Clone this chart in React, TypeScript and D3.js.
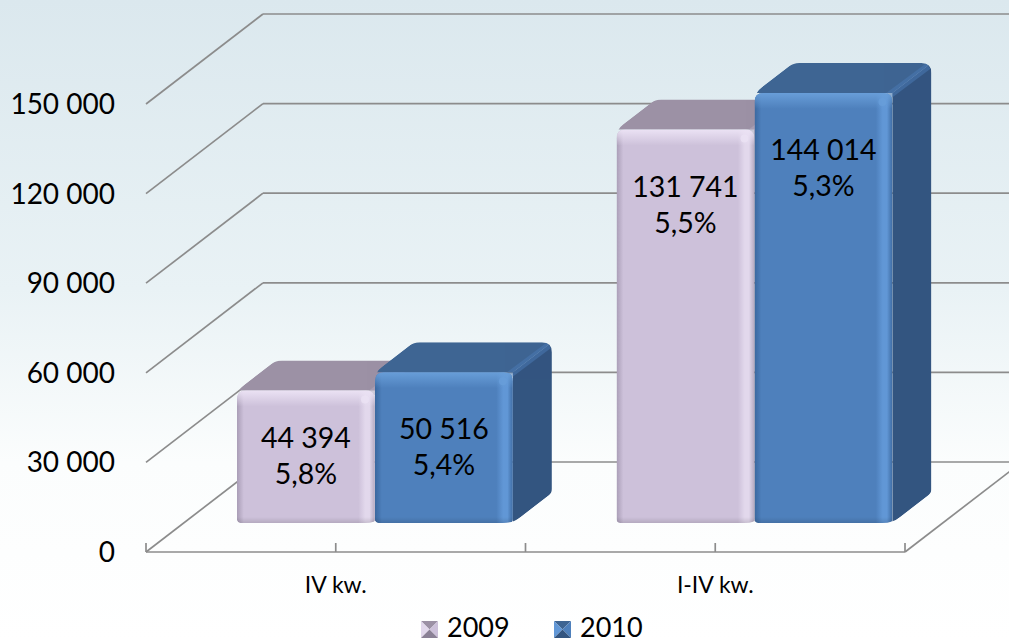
import React, { useEffect } from "react";
import * as d3 from "d3";

const categories = ["IV kw.", "I-IV kw."];
const seriesNames = ["2009", "2010"];
const values2009 = [44394, 131741];
const values2010 = [50516, 144014];
const pct2009 = ["5,8%", "5,5%"];
const pct2010 = ["5,4%", "5,3%"];
const yTicks = [0, 30000, 60000, 90000, 120000, 150000];

const W = 1009;
const H = 642;
const X0 = 146;
const X1 = 905;
const DX = 117;
const DY = 90;
const D0 = 0.322;
const D1 = 0.655;

const palettes = [
  { front: "#cdc1da", leftDark: "#a99db6", rightLight: "#e2d8ec", edge: "#b4a9c0", top: "#9c91a5", topHi: "#ebe2f4", side: "#8b8196", ridge: "#b3a8bd" },
  { front: "#4e80bc", leftDark: "#3a679e", rightLight: "#6197d6", edge: "#3f6ca3", top: "#3e6593", topHi: "#689ed9", side: "#335580", ridge: "#4a79b2" },
];

const fmt = (v: number) => d3.format(",")(v).replace(/,/g, " ");

function roundedPoly(pts: [number, number][], r: number[]) {
  const n = pts.length;
  let d = "";
  for (let i = 0; i < n; i++) {
    const p = pts[i];
    const prev = pts[(i - 1 + n) % n];
    const next = pts[(i + 1) % n];
    const rr = r[i];
    const v1 = [prev[0] - p[0], prev[1] - p[1]];
    const v2 = [next[0] - p[0], next[1] - p[1]];
    const l1 = Math.hypot(v1[0], v1[1]);
    const l2 = Math.hypot(v2[0], v2[1]);
    const a = [p[0] + (v1[0] / l1) * Math.min(rr, l1 / 2), p[1] + (v1[1] / l1) * Math.min(rr, l1 / 2)];
    const b = [p[0] + (v2[0] / l2) * Math.min(rr, l2 / 2), p[1] + (v2[1] / l2) * Math.min(rr, l2 / 2)];
    d += (i === 0 ? "M" : "L") + a[0] + "," + a[1] + " Q" + p[0] + "," + p[1] + " " + b[0] + "," + b[1] + " ";
  }
  return d + "Z";
}

export default function App() {
  useEffect(() => {
    document.body.style.margin = "0";
  }, []);

  const y = d3.scaleLinear().domain([0, 150000]).range([552, 104]);
  const xBand = d3.scaleBand<string>().domain(categories).range([X0, X1]).paddingInner(0).paddingOuter(0);
  const sub = d3.scaleBand<string>().domain(seriesNames).range([0, xBand.bandwidth()]).paddingOuter(0.375).paddingInner(0);
  const proj = (x: number, v: number, d: number): [number, number] => [x + d * DX, y(v) - d * DY];

  const seriesVals = [values2009, values2010];
  const seriesPct = [pct2009, pct2010];

  const font = "Lato, 'Open Sans', sans-serif";

  const bars: any[] = [];
  categories.forEach((cat, ci) => {
    seriesNames.forEach((s, si) => {
      const v = seriesVals[si][ci];
      const xf = (xBand(cat) as number) + (sub(s) as number) + 1.5;
      const w = sub.bandwidth();
      const [x0, yt] = proj(xf, v, D0);
      const [, yb] = proj(xf, 0, D0);
      const x1 = x0 + w;
      const ddx = (D1 - D0) * DX;
      const ddy = (D1 - D0) * DY;
      const pal = palettes[si];
      const id = `b${ci}${si}`;
      const sil = roundedPoly(
        [
          [x0, yb],
          [x0, yt],
          [x0 + ddx, yt - ddy],
          [x1 + ddx, yt - ddy],
          [x1 + ddx, yb - ddy],
          [x1, yb],
        ],
        [4, 9, 6, 10, 4, 10]
      );
      const mid = (yt + yb) / 2;
      const l1 = Math.min(yt + 57, mid - 19);
      bars.push(
        <g key={id}>
          <defs>
            <clipPath id={`clip${id}`}>
              <path d={sil} />
            </clipPath>
            <clipPath id={`clipf${id}`}>
              <path d={roundedPoly([[x0, yb], [x0, yt], [x1, yt], [x1, yb]], [4, 9, 9, 4])} />
            </clipPath>
          </defs>
          <g clipPath={`url(#clip${id})`}>
            <polygon points={[[x0, yt], [x1, yt], [x1 + ddx, yt - ddy], [x0 + ddx, yt - ddy]].map((p) => p.join(",")).join(" ")} fill={pal.top} />
            <polygon points={[[x1, yt], [x1 + ddx, yt - ddy], [x1 + ddx, yb - ddy], [x1, yb]].map((p) => p.join(",")).join(" ")} fill={pal.side} />
            <line x1={x1 - 4} y1={yt + 3} x2={x1 + ddx - 3} y2={yt - ddy + 3} stroke={pal.ridge} strokeWidth={7} opacity={0.55} />
            <g clipPath={`url(#clipf${id})`}>
              <rect x={x0} y={yt} width={w} height={yb - yt} fill={`url(#front${si})`} />
              <rect x={x0} y={yt} width={w} height={16} fill={`url(#topHi${si})`} />
              <rect x={x0} y={yb - 6} width={w} height={6} fill="url(#botShade)" />
            </g>
            <circle cx={x1 - 10} cy={yt + 9} r={4} fill={pal.topHi} opacity={0.8} />
          </g>
          <text x={x0 + w / 2} y={l1} dy="0.36em" textAnchor="middle" fontFamily={font} fontSize={28.5} fill="#000">
            {fmt(v)}
          </text>
          <text x={x0 + w / 2} y={l1 + 36} dy="0.36em" textAnchor="middle" fontFamily={font} fontSize={28.5} fill="#000">
            {seriesPct[si][ci]}
          </text>
        </g>
      );
    });
  });

  const ticksX = d3.range(0, 5).map((k) => X0 + (k * (X1 - X0)) / 4);

  return (
    <svg width={W} height={H} style={{ display: "block" }}>
      <defs>
        <linearGradient id="bg" x1="0" y1="0" x2="0" y2="1">
          <stop offset="0%" stopColor="#dbe8ee" />
          <stop offset="45%" stopColor="#e9f2f5" />
          <stop offset="72%" stopColor="#fbfdfd" />
          <stop offset="100%" stopColor="#ffffff" />
        </linearGradient>
        <linearGradient id="botShade" x1="0" y1="0" x2="0" y2="1">
          <stop offset="0%" stopColor="#000" stopOpacity={0} />
          <stop offset="100%" stopColor="#000" stopOpacity={0.12} />
        </linearGradient>
        {palettes.map((pal, i) => (
          <React.Fragment key={i}>
            <linearGradient id={`front${i}`} x1="0" y1="0" x2="1" y2="0">
              <stop offset="0%" stopColor={pal.leftDark} />
              <stop offset="5%" stopColor={pal.front} />
              <stop offset="88%" stopColor={pal.front} />
              <stop offset="93%" stopColor={pal.rightLight} />
              <stop offset="96%" stopColor={pal.rightLight} />
              <stop offset="100%" stopColor={pal.edge} />
            </linearGradient>
            <linearGradient id={`topHi${i}`} x1="0" y1="0" x2="0" y2="1">
              <stop offset="0%" stopColor={pal.topHi} stopOpacity={1} />
              <stop offset="100%" stopColor={pal.topHi} stopOpacity={0} />
            </linearGradient>
          </React.Fragment>
        ))}
      </defs>
      <rect x={0} y={0} width={W} height={H} fill="url(#bg)" />

      {yTicks.map((t) => {
        const a = proj(X0, t, 0);
        const b = proj(X0, t, 1);
        const c = proj(X1, t, 1);
        return (
          <g key={t}>
            <line x1={a[0]} y1={a[1]} x2={b[0]} y2={b[1]} stroke="#8c8c8c" strokeWidth={1.7} />
            <line x1={b[0]} y1={b[1]} x2={c[0]} y2={c[1]} stroke="#8c8c8c" strokeWidth={1.7} />
          </g>
        );
      })}
      {(() => {
        const a = proj(X0, 0, 0);
        const b = proj(X1, 0, 0);
        const c = proj(X1, 0, 1);
        return (
          <g>
            <line x1={a[0]} y1={a[1]} x2={b[0]} y2={b[1]} stroke="#8c8c8c" strokeWidth={1.7} />
            <line x1={b[0]} y1={b[1]} x2={c[0]} y2={c[1]} stroke="#8c8c8c" strokeWidth={1.7} />
            {ticksX.map((tx) => (
              <line key={tx} x1={tx} y1={a[1]} x2={tx} y2={a[1] - 9} stroke="#8c8c8c" strokeWidth={1.7} />
            ))}
          </g>
        );
      })()}

      {bars}

      {yTicks.map((t) => (
        <text key={t} x={115} y={y(t)} dy="0.36em" textAnchor="end" fontFamily={font} fontSize={28} fill="#000">
          {fmt(t)}
        </text>
      ))}
      {categories.map((c) => (
        <text key={c} x={(xBand(c) as number) + xBand.bandwidth() / 2} y={593} textAnchor="middle" fontFamily={font} fontSize={23} fill="#000">
          {c}
        </text>
      ))}
      {seriesNames.map((s, i) => {
        const lx = i === 0 ? 421 : 554;
        const ly = 621;
        const sz = 17;
        const pal = palettes[i];
        const c = [lx + sz / 2, ly + sz / 2];
        return (
          <g key={s}>
            <polygon points={`${lx},${ly} ${lx + sz},${ly} ${c[0]},${c[1]}`} fill={pal.top} />
            <polygon points={`${lx},${ly} ${c[0]},${c[1]} ${lx},${ly + sz}`} fill={pal.rightLight} />
            <polygon points={`${lx + sz},${ly} ${lx + sz},${ly + sz} ${c[0]},${c[1]}`} fill={pal.front} />
            <polygon points={`${lx},${ly + sz} ${lx + sz},${ly + sz} ${c[0]},${c[1]}`} fill={pal.side} />
            <text x={lx + 26} y={637} fontFamily={font} fontSize={27} fill="#000">
              {s}
            </text>
          </g>
        );
      })}
    </svg>
  );
}
